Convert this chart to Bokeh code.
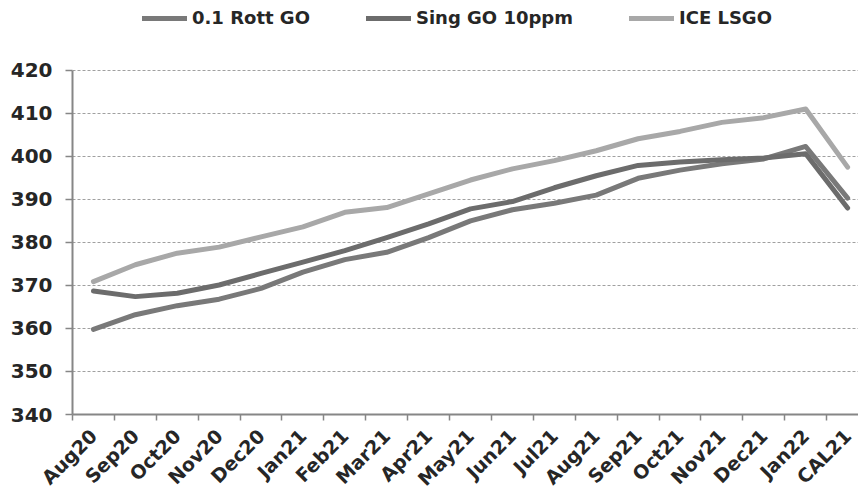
import math
from bokeh.plotting import figure
from bokeh.models import Range1d, FixedTicker, Legend, LegendItem
from bokeh.embed import file_html
from bokeh.resources import INLINE

categories = ["Aug20", "Sep20", "Oct20", "Nov20", "Dec20", "Jan21", "Feb21", "Mar21",
              "Apr21", "May21", "Jun21", "Jul21", "Aug21", "Sep21", "Oct21", "Nov21",
              "Dec21", "Jan22", "CAL21"]
rott_go = [359.8, 363.2, 365.3, 366.8, 369.3, 373.1, 376.0, 377.7, 381.1, 385.0,
           387.6, 389.1, 391.0, 394.9, 396.8, 398.3, 399.4, 402.3, 390.3]
sing_go = [368.7, 367.4, 368.2, 370.1, 372.8, 375.4, 378.1, 381.1, 384.3, 387.8,
           389.5, 392.7, 395.5, 397.9, 398.7, 399.2, 399.6, 400.6, 388.0]
ice_lsgo = [370.9, 374.8, 377.5, 378.9, 381.3, 383.6, 387.0, 388.1, 391.3, 394.5,
            397.1, 399.0, 401.3, 404.1, 405.8, 407.9, 409.0, 411.0, 397.5]
y_ticks = [340, 350, 360, 370, 380, 390, 400, 410, 420]

series = [("0.1 Rott GO", rott_go, "#797979"),
          ("Sing GO 10ppm", sing_go, "#6c6c6c"),
          ("ICE LSGO", ice_lsgo, "#a8a8a8")]

xs = list(range(len(categories)))

# frame spans the whole height above the x axis; the value axis is bounded to 340-420
p = figure(width=858, height=500, output_backend="svg", toolbar_location=None,
           x_range=Range1d(-0.5, 18.26), y_range=Range1d(340, 436.23),
           min_border_left=72, min_border_right=0, min_border_top=0, min_border_bottom=80)
p.outline_line_color = None
p.background_fill_color = "white"
p.border_fill_color = "white"

items = []
for name, vals, color in series:
    r = p.line(xs, vals, line_color=color, line_width=5, line_join="round", line_cap="round")
    items.append(LegendItem(label=name, renderers=[r]))

font = "DejaVu Sans"
p.xaxis.ticker = FixedTicker(ticks=xs, minor_ticks=[i - 0.5 for i in range(len(categories) + 1)])
p.xaxis.major_label_overrides = {i: c for i, c in enumerate(categories)}
p.xaxis.major_label_orientation = math.pi / 4
p.xaxis.major_tick_out = 0
p.xaxis.major_tick_in = 0
p.xaxis.minor_tick_out = 6
p.xaxis.minor_tick_in = 0
p.xaxis.minor_tick_line_color = "#868686"
p.xaxis.minor_tick_line_width = 1.5
p.xaxis.axis_line_color = "#868686"
p.xaxis.axis_line_width = 2
p.xaxis.major_label_text_font = font
p.xaxis.major_label_text_font_style = "bold"
p.xaxis.major_label_text_font_size = "19px"
p.xaxis.major_label_text_color = "#262626"
p.xaxis.major_label_standoff = 12

p.yaxis.bounds = (340, 420)
p.yaxis.ticker = FixedTicker(ticks=y_ticks)
p.yaxis.minor_tick_line_color = None
p.yaxis.major_tick_out = 7
p.yaxis.major_tick_in = 0
p.yaxis.major_tick_line_color = "#868686"
p.yaxis.major_tick_line_width = 1.5
p.yaxis.axis_line_color = "#868686"
p.yaxis.axis_line_width = 2
p.yaxis.major_label_text_font = font
p.yaxis.major_label_text_font_style = "bold"
p.yaxis.major_label_text_font_size = "20px"
p.yaxis.major_label_text_color = "#262626"
p.yaxis.major_label_standoff = 13

p.xgrid.grid_line_color = None
p.ygrid.ticker = FixedTicker(ticks=y_ticks)
p.ygrid.grid_line_color = "#a0a0a0"
p.ygrid.grid_line_dash = "3 2"
p.ygrid.grid_line_width = 1

legend = Legend(items=items, orientation="horizontal", location=(70, 386),
                padding=0, margin=0, spacing=56, glyph_width=45, glyph_height=20,
                label_height=20, label_standoff=5,
                label_text_font=font, label_text_font_style="bold",
                label_text_font_size="18px", label_text_color="#262626",
                border_line_color=None, background_fill_alpha=0)
p.add_layout(legend, "center")

open("out.html", "w").write(file_html(p, INLINE))
